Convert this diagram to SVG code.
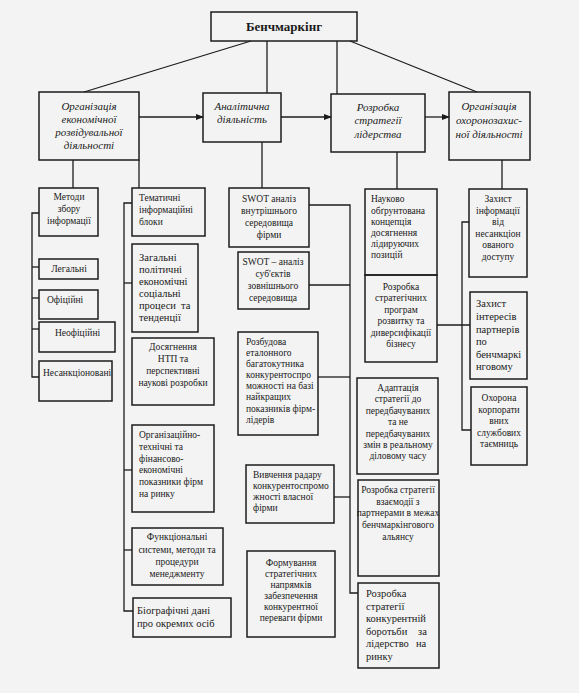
<svg xmlns="http://www.w3.org/2000/svg" width="579" height="693" viewBox="0 0 579 693" font-family="'Liberation Serif', 'DejaVu Serif', serif">
<defs>
<marker id="arr" markerWidth="8" markerHeight="6" refX="7" refY="3" orient="auto" markerUnits="userSpaceOnUse">
<path d="M0,0 L8,3 L0,6 Z" fill="#1a1a1a"/>
</marker>
<style>
rect.b{fill:none;stroke:#1c1c1c;stroke-width:1.5}
.c line,.c polyline{stroke:#1c1c1c;stroke-width:1.3;fill:none}
text{font-family:'Liberation Serif','DejaVu Serif',serif;fill:#1a1a1a;font-size:9.5px}
.h{font-style:italic;font-size:11px;text-anchor:middle}
.m{text-anchor:middle}
.t{font-weight:bold;font-size:13px;text-anchor:middle}
.l{font-size:10.5px}
</style>
</defs>
<rect x="0" y="0" width="579" height="693" fill="#f3f3f3"/>

<g class="c" id="connectors">
<line x1="84" y1="92" x2="251" y2="41"/>
<line x1="267" y1="41" x2="267" y2="93"/>
<line x1="337" y1="41" x2="337" y2="94"/>
<line x1="350" y1="41" x2="477" y2="92"/>
<line x1="139" y1="117" x2="203" y2="117" marker-end="url(#arr)"/>
<line x1="281" y1="117" x2="331" y2="117" marker-end="url(#arr)"/>
<line x1="425" y1="117" x2="449" y2="117" marker-end="url(#arr)"/>
<line x1="73" y1="160" x2="73" y2="188"/>
<line x1="139" y1="160" x2="139" y2="188"/>
<line x1="262" y1="142" x2="262" y2="188"/>
<line x1="397" y1="152" x2="397" y2="189"/>
<line x1="502" y1="160" x2="502" y2="189"/>
<polyline points="39,213 32,213 32,377 39,377"/>
<line x1="32" y1="267" x2="39" y2="267"/>
<line x1="32" y1="298" x2="39" y2="298"/>
<line x1="32" y1="329" x2="39" y2="329"/>
<polyline points="132,203 124,203 124,611 133,611"/>
<line x1="124" y1="283" x2="132" y2="283"/>
<line x1="124" y1="470" x2="132" y2="470"/>
<line x1="124" y1="550" x2="132" y2="550"/>
<polyline points="309,205 350,205 350,593 358,593"/>
<line x1="309" y1="285" x2="350" y2="285"/>
<line x1="318" y1="377" x2="350" y2="377"/>
<line x1="334" y1="497" x2="350" y2="497"/>
<polyline points="469,222 462,222 462,430 471,430"/>
<line x1="437" y1="325" x2="470" y2="325"/>
</g>

<g id="n0"><rect class="b" x="211" y="12" width="146" height="29"/><text class="t" x="284" y="31">Бенчмаркінг</text></g>
<g id="n1"><rect class="b" x="39" y="92" width="100" height="68"/>
<text class="h" x="89" y="110">Організація</text><text class="h" x="89" y="123">економічної</text><text class="h" x="89" y="136">розвідувальної</text><text class="h" x="89" y="149">діяльності</text></g>
<g id="n2"><rect class="b" x="203" y="93" width="78" height="49"/>
<text class="h" x="242" y="110">Аналітична</text><text class="h" x="242" y="123">діяльність</text></g>
<g id="n3"><rect class="b" x="331" y="94" width="94" height="58"/>
<text class="h" x="378" y="111">Розробка</text><text class="h" x="378" y="124">стратегії</text><text class="h" x="378" y="138">лідерства</text></g>
<g id="n4"><rect class="b" x="449" y="92" width="81" height="68"/>
<text class="h" x="489" y="110">Організація</text><text class="h" x="489" y="124">охоронозахис-</text><text class="h" x="489" y="138">ної діяльності</text></g>

<g id="a1"><rect class="b" x="39" y="188" width="59" height="48"/>
<text class="m" x="69" y="200">Методи</text><text class="m" x="69" y="212">збору</text><text class="m" x="69" y="224">інформації</text></g>
<g id="a2"><rect class="b" x="39" y="259" width="59" height="20"/><text class="m" x="69" y="272">Легальні</text></g>
<g id="a3"><rect class="b" x="39" y="290" width="59" height="29"/><text x="47" y="303">Офіційні</text></g>
<g id="a4"><rect class="b" x="39" y="322" width="76" height="30"/><text x="55" y="336">Неофіційні</text></g>
<g id="a5"><rect class="b" x="39" y="361" width="73" height="40"/><text x="43" y="376">Несанкціоновані</text></g>

<g id="b1"><rect class="b" x="132" y="188" width="73" height="48"/>
<text x="139" y="201">Тематичні</text><text x="139" y="213">інформаційні</text><text x="139" y="225">блоки</text></g>
<g id="b2"><rect class="b" x="132" y="244" width="66" height="88"/>
<text class="l" x="139" y="261">Загальні</text><text class="l" x="139" y="273">політичні</text><text class="l" x="139" y="285">економічні</text><text class="l" x="139" y="297">соціальні</text><text class="l" x="139" y="309">процеси</text><text class="l" x="181" y="309">та</text><text class="l" x="139" y="321">тенденції</text></g>
<g id="b3"><rect class="b" x="132" y="338" width="82" height="67"/>
<text class="m" x="173" y="350">Досягнення</text><text class="m" x="173" y="362">НТП та</text><text class="m" x="173" y="374">перспективні</text><text class="m" x="173" y="386">наукові розробки</text></g>
<g id="b4"><rect class="b" x="132" y="425" width="82" height="87"/>
<text x="139" y="438">Організаційно-</text><text x="139" y="450">технічні та</text><text x="139" y="462">фінансово-</text><text x="139" y="473">економічні</text><text x="139" y="485">показники фірм</text><text x="139" y="497">на ринку</text></g>
<g id="b5"><rect class="b" x="132" y="528" width="91" height="57"/>
<text class="m" x="177" y="540">Функціональні</text><text class="m" x="177" y="553">системи, методи та</text><text class="m" x="177" y="565">процедури</text><text class="m" x="177" y="577">менеджменту</text></g>
<g id="b6"><rect class="b" x="133" y="598" width="98" height="39"/>
<text class="l" x="137" y="614">Біографічні дані</text><text class="l" x="137" y="627">про окремих осіб</text></g>

<g id="c1"><rect class="b" x="229" y="188" width="80" height="59"/>
<text class="m" x="269" y="202">SWOT аналіз</text><text class="m" x="269" y="214">внутрішнього</text><text class="m" x="269" y="226">середовища</text><text class="m" x="269" y="238">фірми</text></g>
<g id="c2"><rect class="b" x="238" y="252" width="71" height="57"/>
<text class="m" x="273" y="265">SWOT – аналіз</text><text class="m" x="273" y="277">суб'єктів</text><text class="m" x="273" y="289">зовнішнього</text><text class="m" x="273" y="301">середовища</text></g>
<g id="c3"><rect class="b" x="238" y="332" width="80" height="103"/>
<text x="246" y="345">Розбудова</text><text x="246" y="356">еталонного</text><text x="246" y="367">багатокутника</text><text x="246" y="378">конкурентоспро</text><text x="246" y="389">можності на базі</text><text x="246" y="400">найкращих</text><text x="246" y="412">показників фірм-</text><text x="246" y="423">лідерів</text></g>
<g id="c4"><rect class="b" x="246" y="465" width="88" height="58"/>
<text x="253" y="478">Вивчення радару</text><text x="253" y="489">конкурентоспромо</text><text x="253" y="500">жності власної</text><text x="253" y="511">фірми</text></g>
<g id="c5"><rect class="b" x="247" y="551" width="88" height="86"/>
<text class="m" x="291" y="566">Формування</text><text class="m" x="291" y="577">стратегічних</text><text class="m" x="291" y="588">напрямків</text><text class="m" x="291" y="599">забезпечення</text><text class="m" x="291" y="610">конкурентної</text><text class="m" x="291" y="621">переваги фірми</text></g>

<g id="d1"><rect class="b" x="365" y="189" width="72" height="86"/>
<text x="371" y="202">Науково</text><text x="371" y="214">обґрунтована</text><text x="371" y="225">концепція</text><text x="371" y="236">досягнення</text><text x="371" y="247">лідируючих</text><text x="371" y="258">позицій</text></g>
<g id="d2"><rect class="b" x="365" y="275" width="72" height="87"/>
<text class="m" x="401" y="290">Розробка</text><text class="m" x="401" y="301">стратегічних</text><text class="m" x="401" y="313">програм</text><text class="m" x="401" y="324">розвитку та</text><text class="m" x="401" y="336">диверсифікації</text><text class="m" x="401" y="347">бізнесу</text></g>
<g id="d3"><rect class="b" x="357" y="378" width="81" height="96"/>
<text class="m" x="398" y="391">Адаптація</text><text class="m" x="398" y="402">стратегії до</text><text class="m" x="398" y="414">передбачуваних</text><text class="m" x="398" y="425">та не</text><text class="m" x="398" y="437">передбачуваних</text><text class="m" x="398" y="448">змін в реальному</text><text class="m" x="398" y="459">діловому часу</text></g>
<g id="d4"><rect class="b" x="358" y="480" width="81" height="96"/>
<text class="m" x="398" y="493">Розробка стратегії</text><text class="m" x="398" y="505">взаємодії з</text><text class="m" x="398" y="516">партнерами в межах</text><text class="m" x="398" y="528">бенчмаркінгового</text><text class="m" x="398" y="540">альянсу</text></g>
<g id="d5"><rect class="b" x="358" y="583" width="81" height="85"/>
<text class="l" x="366" y="597">Розробка</text><text class="l" x="366" y="610">стратегії</text><text class="l" x="366" y="622">конкурентній</text><text class="l" x="366" y="635">боротьби</text><text class="l" x="418" y="635">за</text><text class="l" x="366" y="647">лідерство</text><text class="l" x="416" y="647">на</text><text class="l" x="366" y="660">ринку</text></g>

<g id="e1"><rect class="b" x="469" y="189" width="58" height="88"/>
<text class="m" x="498" y="202">Захист</text><text class="m" x="498" y="214">інформації</text><text class="m" x="498" y="225">від</text><text class="m" x="498" y="237">несанкціон</text><text class="m" x="498" y="248">ованого</text><text class="m" x="498" y="260">доступу</text></g>
<g id="e2"><rect class="b" x="470" y="292" width="57" height="87"/>
<text class="l" x="476" y="307">Захист</text><text class="l" x="476" y="320">інтересів</text><text class="l" x="476" y="333">партнерів</text><text class="l" x="476" y="345">по</text><text class="l" x="476" y="358">бенчмаркі</text><text class="l" x="476" y="370">нговому</text></g>
<g id="e3"><rect class="b" x="471" y="387" width="56" height="78"/>
<text class="m" x="499" y="401">Охорона</text><text class="m" x="499" y="413">корпорати</text><text class="m" x="499" y="424">вних</text><text class="m" x="499" y="436">службових</text><text class="m" x="499" y="447">таємниць</text></g>
</svg>
